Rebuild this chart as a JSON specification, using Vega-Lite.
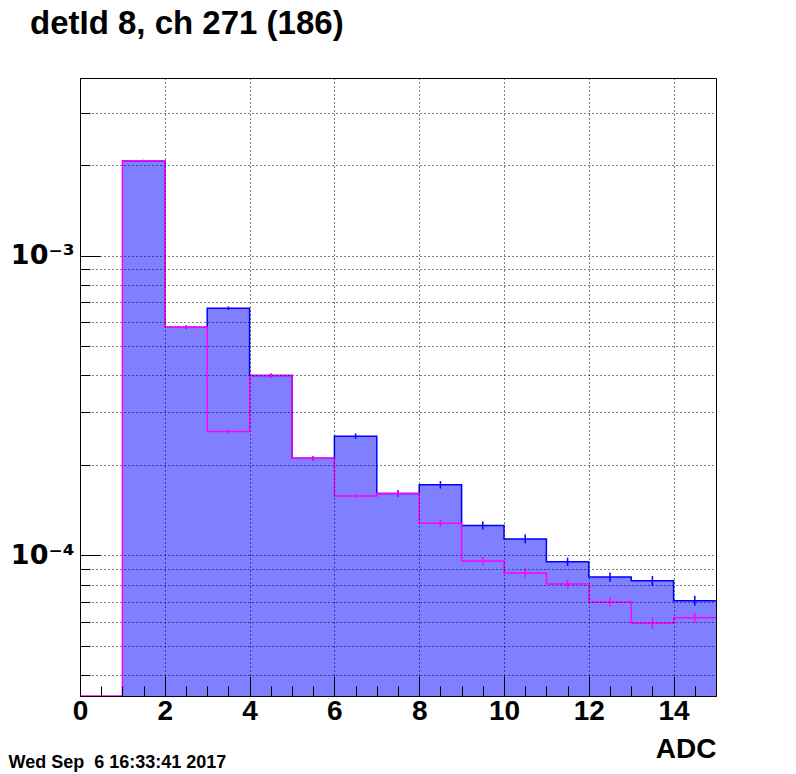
{
  "$schema": "https://vega.github.io/schema/vega-lite/v6.json",
  "width": 636,
  "height": 618,
  "autosize": {"type": "none"},
  "padding": {"left": 80, "top": 78, "right": 80, "bottom": 78},
  "background": "white",
  "config": {
    "view": {"stroke": "black", "strokeWidth": 1},
    "font": "Liberation Sans"
  },
  "title": {
    "text": "detId 8, ch 271 (186)",
    "anchor": "start",
    "frame": "group",
    "dx": -50,
    "dy": 31,
    "offset": 42,
    "baseline": "alphabetic",
    "font": "Liberation Sans",
    "fontSize": 33,
    "fontWeight": "bold",
    "color": "black"
  },
  "datasets": {
    "blue": [
      {"x": 1, "v": 0.00207},
      {"x": 2, "v": 0.000577},
      {"x": 3, "v": 0.000668},
      {"x": 4, "v": 0.000398},
      {"x": 5, "v": 0.000211},
      {"x": 6, "v": 0.00025},
      {"x": 7, "v": 0.000161},
      {"x": 8, "v": 0.000172},
      {"x": 9, "v": 0.000126},
      {"x": 10, "v": 0.0001135},
      {"x": 11, "v": 0.0000953},
      {"x": 12, "v": 0.0000847},
      {"x": 13, "v": 0.0000823},
      {"x": 14, "v": 0.0000706},
      {"x": 15, "v": 0.0000706}
    ],
    "mag": [
      {"x": 0, "v": 0.000034},
      {"x": 1, "v": 0.00207},
      {"x": 2, "v": 0.000577},
      {"x": 3, "v": 0.000259},
      {"x": 4, "v": 0.000398},
      {"x": 5, "v": 0.000211},
      {"x": 6, "v": 0.000158},
      {"x": 7, "v": 0.000161},
      {"x": 8, "v": 0.000128},
      {"x": 9, "v": 0.0000958},
      {"x": 10, "v": 0.0000875},
      {"x": 11, "v": 0.0000803},
      {"x": 12, "v": 0.00007},
      {"x": 13, "v": 0.0000594},
      {"x": 14, "v": 0.000062},
      {"x": 15, "v": 0.000062}
    ],
    "blueErr": [
      {"x": 1.5, "v": 0.002054, "v2": 0.002086},
      {"x": 2.5, "v": 0.0005696, "v2": 0.0005845},
      {"x": 3.5, "v": 0.0006594, "v2": 0.0006767},
      {"x": 4.5, "v": 0.0003919, "v2": 0.0004042},
      {"x": 5.5, "v": 0.0002075, "v2": 0.0002146},
      {"x": 6.5, "v": 0.0002449, "v2": 0.0002553},
      {"x": 7.5, "v": 0.0001569, "v2": 0.0001652},
      {"x": 8.5, "v": 0.0001672, "v2": 0.000177},
      {"x": 9.5, "v": 0.0001222, "v2": 0.0001299},
      {"x": 10.5, "v": 0.0001098, "v2": 0.0001174},
      {"x": 11.5, "v": 0.00009226, "v2": 0.0000984},
      {"x": 12.5, "v": 0.00008168, "v2": 0.00008783},
      {"x": 13.5, "v": 0.00007921, "v2": 0.00008551},
      {"x": 14.5, "v": 0.00006795, "v2": 0.00007335}
    ],
    "magErr": [
      {"x": 1.5, "v": 0.002054, "v2": 0.002086},
      {"x": 2.5, "v": 0.0005696, "v2": 0.0005845},
      {"x": 3.5, "v": 0.0002544, "v2": 0.0002637},
      {"x": 4.5, "v": 0.0003919, "v2": 0.0004042},
      {"x": 5.5, "v": 0.0002075, "v2": 0.0002146},
      {"x": 6.5, "v": 0.0001552, "v2": 0.0001608},
      {"x": 7.5, "v": 0.0001569, "v2": 0.0001652},
      {"x": 8.5, "v": 0.0001248, "v2": 0.0001313},
      {"x": 9.5, "v": 0.00009292, "v2": 0.00009877},
      {"x": 10.5, "v": 0.00008462, "v2": 0.00009048},
      {"x": 11.5, "v": 0.00007774, "v2": 0.00008295},
      {"x": 12.5, "v": 0.00006737, "v2": 0.00007273},
      {"x": 13.5, "v": 0.00005684, "v2": 0.00006207},
      {"x": 14.5, "v": 0.00005967, "v2": 0.00006442}
    ]
  },
  "encoding": {
    "x": {
      "field": "x", "type": "quantitative",
      "scale": {"domain": [0, 15], "nice": false, "zero": false},
      "axis": {
        "values": [0, 0.5, 1, 1.5, 2, 2.5, 3, 3.5, 4, 4.5, 5, 5.5, 6, 6.5, 7, 7.5, 8, 8.5, 9, 9.5, 10, 10.5, 11, 11.5, 12, 12.5, 13, 13.5, 14, 14.5],
        "labelExpr": "datum.value % 2 == 0 ? format(datum.value, 'd') : ''",
        "labelOverlap": false,
        "labelFlush": false,
        "labelFont": "Liberation Sans",
        "labelFontSize": 28,
        "labelFontWeight": "bold",
        "labelColor": "black",
        "labelPadding": 21,
        "tickColor": "black",
        "tickSize": {"condition": {"test": "datum.value % 2 == 0", "value": -20}, "value": -10},
        "domainColor": "black",
        "grid": true,
        "gridColor": "black",
        "gridDash": [1, 3],
        "gridOpacity": {"condition": {"test": "datum.value % 2 == 0 && datum.value > 0", "value": 1}, "value": 0},
        "zindex": 1,
        "title": "ADC",
        "titleFont": "Liberation Sans",
        "titleFontSize": 28,
        "titleFontWeight": "bold",
        "titleColor": "black",
        "titleX": 636,
        "titleY": 61,
        "titleAlign": "right",
        "titleBaseline": "alphabetic",
        "titleAnchor": "end"
      }
    },
    "y": {
      "field": "v", "type": "quantitative",
      "scale": {"type": "log", "domain": [0.000034, 0.00391], "nice": false},
      "axis": {
        "values": [0.00004, 0.00005, 0.00006, 0.00007, 0.00008, 0.00009, 0.0001, 0.0002, 0.0003, 0.0004, 0.0005, 0.0006, 0.0007, 0.0008, 0.0009, 0.001, 0.002, 0.003],
        "labelExpr": "datum.value == 0.001 ? '10⁻³' : (datum.value == 0.0001 ? '10⁻⁴' : '')",
        "labelOverlap": false,
        "labelFlush": false,
        "labelFont": "DejaVu Sans",
        "labelFontSize": 27,
        "labelFontWeight": "bold",
        "labelColor": "black",
        "labelPadding": 26,
        "tickColor": "black",
        "tickSize": {"condition": {"test": "datum.value == 0.001 || datum.value == 0.0001", "value": -20}, "value": -10},
        "domainColor": "black",
        "grid": true,
        "gridColor": "black",
        "gridDash": [1, 3],
        "zindex": 1,
        "title": "Wed Sep \u00a06 16:33:41 2017",
        "titleAngle": 0,
        "titleX": -72,
        "titleY": 689,
        "titleAlign": "left",
        "titleBaseline": "alphabetic",
        "titleFont": "Liberation Sans",
        "titleFontSize": 18,
        "titleFontWeight": "bold",
        "titleColor": "black"
      }
    }
  },
  "layer": [
    {
      "data": {"name": "blue"},
      "mark": {"type": "area", "interpolate": "step-after", "fill": "#0000ff", "fillOpacity": 0.5, "clip": true},
      "encoding": {"y2": {"datum": 0.000034}}
    },
    {
      "data": {"name": "blue"},
      "mark": {"type": "line", "interpolate": "step-after", "stroke": "#0000ff", "strokeWidth": 1.5, "clip": true},
      "encoding": {}
    },
    {
      "data": {"name": "blueErr"},
      "mark": {"type": "rule", "stroke": "#0000ff", "strokeWidth": 1.5, "clip": true},
      "encoding": {"y2": {"field": "v2"}}
    },
    {
      "data": {"name": "mag"},
      "mark": {"type": "line", "interpolate": "step-after", "stroke": "#ff00ff", "strokeWidth": 1.5, "clip": true},
      "encoding": {}
    },
    {
      "data": {"name": "magErr"},
      "mark": {"type": "rule", "stroke": "#ff00ff", "strokeWidth": 1.5, "clip": true},
      "encoding": {"y2": {"field": "v2"}}
    }
  ]
}
